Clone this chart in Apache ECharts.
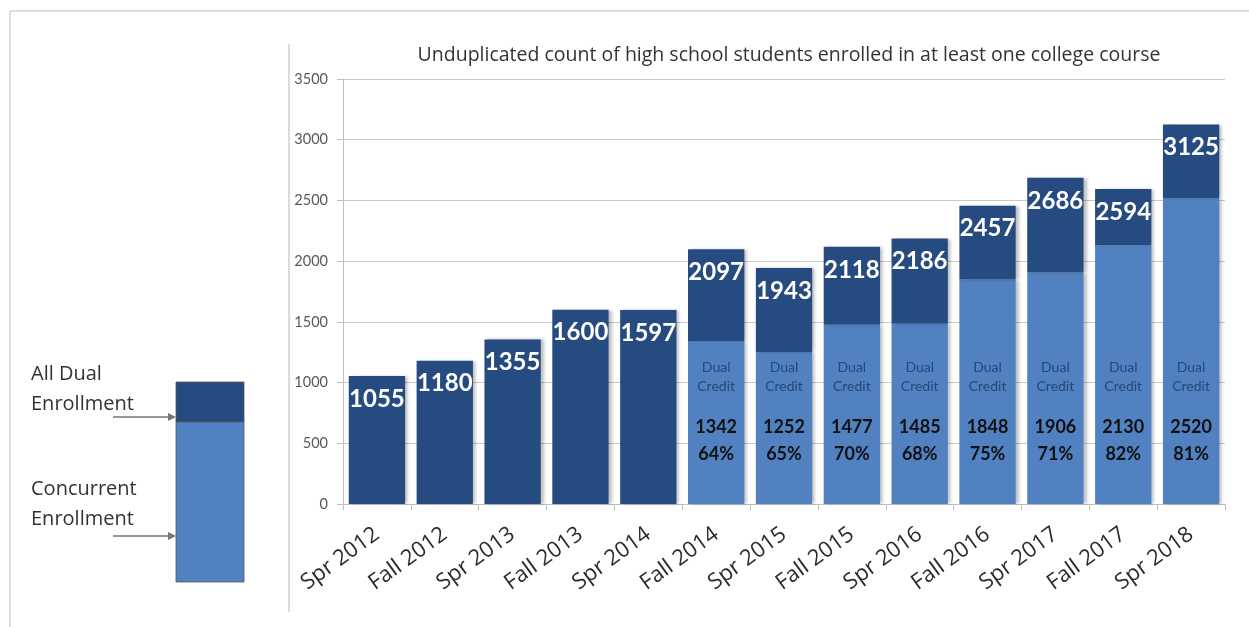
<!DOCTYPE html>
<html>
<head>
<meta charset="utf-8">
<script src="https://cdn.jsdelivr.net/npm/echarts@6/dist/echarts.min.js"></script>
<style>html,body{margin:0;padding:0;background:#fff}#c{width:1249px;height:627px}</style>
</head>
<body>
<div id="c"></div>
<script>
const categories = ['Spr 2012','Fall 2012','Spr 2013','Fall 2013','Spr 2014','Fall 2014','Spr 2015','Fall 2015','Spr 2016','Fall 2016','Spr 2017','Fall 2017','Spr 2018'];
const totals = [1055,1180,1355,1600,1597,2097,1943,2118,2186,2457,2686,2594,3125];
const dualCredit = [null,null,null,null,null,1342,1252,1477,1485,1848,1906,2130,2520];
const dualPct = ['','','','','','64%','65%','70%','68%','75%','71%','82%','81%'];
const yTicks = [0,500,1000,1500,2000,2500,3000,3500];
const titleText = 'Unduplicated count of high school students enrolled in at least one college course';

const DARK = '#264b80';
const LIGHT = '#5181c0';
const FONT = 'Lato, "Open Sans", sans-serif';
const FONT2 = '"Open Sans", Lato, sans-serif';

const upper = totals.map((t,i) => t - (dualCredit[i] || 0));

const chart = echarts.init(document.getElementById('c'));
chart.setOption({
  animation: false,
  title: {
    text: titleText, left: 784, top: 40, textAlign: 'center',
    textStyle: {fontFamily: FONT2, fontSize: 19.5, fontWeight: 'normal', color: '#333'}
  },
  grid: {left: 343, top: 79, right: 24, bottom: 123, containLabel: false},
  xAxis: {
    type: 'category', data: categories,
    axisLine: {lineStyle: {color: '#bfbfbf'}},
    axisTick: {show: true, length: 6, lineStyle: {color: '#bfbfbf'}},
    axisLabel: {rotate: 36, fontFamily: FONT2, fontSize: 22, color: '#2b2b2b', margin: 28, interval: 0}
  },
  yAxis: {
    type: 'value', min: yTicks[0], max: yTicks[yTicks.length-1], interval: 500,
    axisLine: {show: true, lineStyle: {color: '#bfbfbf'}},
    axisTick: {show: true, length: 6, lineStyle: {color: '#bfbfbf'}},
    splitLine: {lineStyle: {color: '#c8c8c8'}},
    axisLabel: {fontFamily: FONT, fontSize: 14.5, color: '#595959', margin: 15, formatter: v => String(v)}
  },
  series: [
    {
      type: 'bar', stack: 's', data: dualCredit, barCategoryGap: '17%',
      itemStyle: {color: LIGHT, shadowColor: 'rgba(0,0,0,0.25)', shadowBlur: 3, shadowOffsetX: 3},
      label: {
        show: true, position: 'insideBottom', distance: 36,
        formatter: p => p.value == null ? '' : '{a|Dual}\n{a|Credit}\n{g|}\n{b|' + p.value + '}\n{b|' + dualPct[p.dataIndex] + '}',
        rich: {
          a: {fontFamily: FONT, fontSize: 14, color: '#24487a', lineHeight: 19, align: 'center'},
          g: {lineHeight: 18, fontSize: 10},
          b: {fontFamily: FONT, fontSize: 18, fontWeight: 'bold', color: '#111', lineHeight: 27, align: 'center'}
        }
      }
    },
    {
      type: 'bar', stack: 's', data: upper,
      itemStyle: {color: DARK, shadowColor: 'rgba(0,0,0,0.25)', shadowBlur: 3, shadowOffsetX: 3},
      label: {
        show: true, position: 'insideTop', distance: 11,
        formatter: p => String(totals[p.dataIndex]),
        fontFamily: FONT, fontSize: 24, fontWeight: 'bold', color: '#fff'
      }
    }
  ],
  graphic: [
    {type: 'line', shape: {x1: 10, y1: 11, x2: 1249, y2: 11}, style: {stroke: '#bdbdbd', lineWidth: 1}},
    {type: 'line', shape: {x1: 10, y1: 11, x2: 10, y2: 627}, style: {stroke: '#bdbdbd', lineWidth: 1}},
    {type: 'line', shape: {x1: 289, y1: 44, x2: 289, y2: 612}, style: {stroke: '#cfcfcf', lineWidth: 1.5}},
    {type: 'rect', shape: {x: 176, y: 382, width: 68, height: 40}, style: {fill: DARK, stroke: '#555', lineWidth: 0.8}},
    {type: 'rect', shape: {x: 176, y: 422, width: 68, height: 160}, style: {fill: LIGHT, stroke: '#555', lineWidth: 0.8}},
    {type: 'text', x: 31, y: 359, style: {text: 'All Dual\nEnrollment', font: '20px ' + FONT2, fill: '#333', lineHeight: 30}},
    {type: 'text', x: 31, y: 474, style: {text: 'Concurrent\nEnrollment', font: '20px ' + FONT2, fill: '#333', lineHeight: 30}},
    {type: 'line', shape: {x1: 113, y1: 417, x2: 170, y2: 417}, style: {stroke: '#777', lineWidth: 1.5}},
    {type: 'polygon', shape: {points: [[176,417],[168,413],[168,421]]}, style: {fill: '#777'}},
    {type: 'line', shape: {x1: 113, y1: 536, x2: 170, y2: 536}, style: {stroke: '#777', lineWidth: 1.5}},
    {type: 'polygon', shape: {points: [[176,536],[168,532],[168,540]]}, style: {fill: '#777'}}
  ]
});
</script>
</body>
</html>
